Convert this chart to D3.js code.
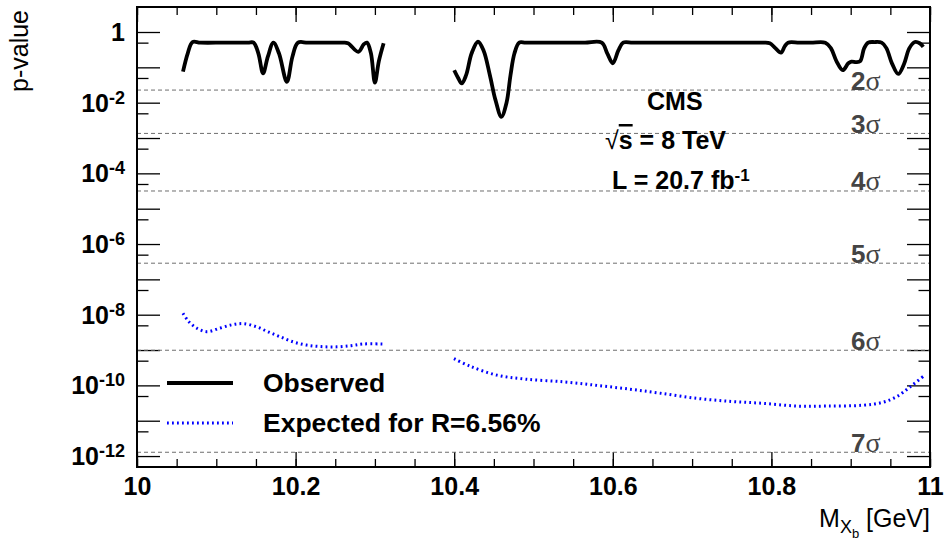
<!DOCTYPE html>
<html>
<head>
<meta charset="utf-8">
<script src="https://cdn.jsdelivr.net/npm/d3@7"></script>
<style>
  body { margin: 0; background: #fff; }
  text { font-family: "Liberation Sans", Arial, sans-serif; }
</style>
</head>
<body>
<div id="chart"></div>
<script>
// observed local p-value, two mass windows
const obsMassA = [10.058, 10.064, 10.070, 10.080, 10.110, 10.140, 10.147, 10.153, 10.159, 10.165, 10.172, 10.179, 10.189, 10.196, 10.203, 10.215, 10.235, 10.260, 10.266, 10.279, 10.286, 10.290, 10.295, 10.300, 10.305, 10.311];
const obsPA    = [0.076, 0.25, 0.52, 0.5, 0.5, 0.5, 0.5, 0.25, 0.068, 0.2, 0.5, 0.25, 0.039, 0.2, 0.5, 0.5, 0.5, 0.5, 0.48, 0.275, 0.45, 0.5, 0.25, 0.037, 0.15, 0.48];
const obsMassB = [10.400, 10.405, 10.4095, 10.415, 10.422, 10.430, 10.437, 10.445, 10.452, 10.4595, 10.466, 10.471, 10.476, 10.482, 10.490, 10.515, 10.540, 10.565, 10.586, 10.593, 10.600, 10.607, 10.613, 10.625, 10.650, 10.680, 10.710, 10.740, 10.765, 10.790, 10.798, 10.805, 10.812, 10.817, 10.821, 10.835, 10.850, 10.868, 10.875, 10.882, 10.890, 10.897, 10.901, 10.907, 10.912, 10.917, 10.922, 10.930, 10.939, 10.945, 10.952, 10.960, 10.967, 10.974, 10.981, 10.987, 10.9915];
const obsPB    = [0.083, 0.05, 0.035, 0.06, 0.25, 0.53, 0.3, 0.06, 0.012, 0.004, 0.01, 0.06, 0.25, 0.5, 0.5, 0.5, 0.5, 0.5, 0.5, 0.25, 0.13, 0.3, 0.5, 0.5, 0.5, 0.5, 0.5, 0.5, 0.5, 0.5, 0.48, 0.35, 0.26, 0.4, 0.5, 0.5, 0.5, 0.5, 0.35, 0.15, 0.083, 0.13, 0.145, 0.14, 0.15, 0.35, 0.5, 0.52, 0.5, 0.35, 0.13, 0.065, 0.12, 0.35, 0.52, 0.48, 0.38];

// expected for R = 6.56%
const expMassA = [10.058, 10.065, 10.075, 10.088, 10.105, 10.120, 10.134, 10.150, 10.165, 10.180, 10.197, 10.214, 10.232, 10.252, 10.270, 10.285, 10.311];
const expPA    = [1.1e-8, 6.5e-9, 4.2e-9, 3.3e-9, 4.2e-9, 5.2e-9, 5.6e-9, 4.6e-9, 3.3e-9, 2.4e-9, 1.7e-9, 1.38e-9, 1.25e-9, 1.23e-9, 1.33e-9, 1.48e-9, 1.48e-9];
const expMassB = [10.3997, 10.420, 10.4536, 10.490, 10.5376, 10.580, 10.6217, 10.660, 10.7057, 10.750, 10.7898, 10.832, 10.870, 10.916, 10.940, 10.958, 10.975, 10.9915];
const expPB    = [5.7e-10, 3.5e-10, 1.95e-10, 1.5e-10, 1.26e-10, 1.0e-10, 7.8e-11, 6.0e-11, 4.3e-11, 3.5e-11, 3.1e-11, 2.6e-11, 2.6e-11, 2.75e-11, 3.3e-11, 4.8e-11, 9.1e-11, 1.8e-10];

// significance reference lines (one-sided)
const sigmaLabels = ["2", "3", "4", "5", "6", "7"];
const sigmaP = [2.275e-2, 1.35e-3, 3.167e-5, 2.867e-7, 9.866e-10, 1.28e-12];

const xTickValues = [10, 10.2, 10.4, 10.6, 10.8, 11];
const xTickLabels = ["10", "10.2", "10.4", "10.6", "10.8", "11"];
const yLabelExp = [0, -2, -4, -6, -8, -10, -12];

const legendLabels = ["Observed", "Expected for R=6.56%"];

const width = 945, height = 542;
const margin = {left: 137, right: 15, top: 7, bottom: 75};
const plotW = width - margin.left - margin.right,
    plotH = height - margin.top - margin.bottom;

const svg = d3.select("#chart")
    .append("svg")
    .attr("width", width)
    .attr("height", height);

const g = svg.append("g")
    .attr("transform", "translate(" + margin.left + "," + margin.top + ")");

const x = d3.scaleLinear().domain([10, 11]).range([0, plotW]);
const y = d3.scaleLog().domain([4.9e-13, 5.1]).range([plotH, 0]);

// ticks
const xMinor = d3.range(0, 21).map(i => 10 + i * 0.05);
const yMajor = d3.range(-12, 1).map(e => Math.pow(10, e));
const yMinor = d3.range(-12, 1).map(e => 5 * Math.pow(10, e - 1));

function styleAxis(sel) {
    sel.select(".domain").remove();
    sel.selectAll(".tick line").attr("stroke", "#000").attr("stroke-width", 1.3);
}

g.append("g").attr("transform", "translate(0," + plotH + ")")
    .call(d3.axisBottom(x).tickValues(xMinor).tickSize(-8).tickFormat(""))
    .call(styleAxis);
g.append("g").attr("transform", "translate(0," + plotH + ")")
    .call(d3.axisBottom(x).tickValues(xTickValues).tickSize(-15).tickPadding(10)
        .tickFormat((d, i) => xTickLabels[i]))
    .call(styleAxis)
    .selectAll("text")
    .attr("fill", "#000")
    .style("font-size", "25px")
    .style("font-weight", "bold");
g.append("g")
    .call(d3.axisTop(x).tickValues(xMinor).tickSize(-8).tickFormat(""))
    .call(styleAxis);
g.append("g")
    .call(d3.axisTop(x).tickValues(xTickValues).tickSize(-15).tickFormat(""))
    .call(styleAxis);

g.append("g")
    .call(d3.axisLeft(y).tickValues(yMajor).tickSize(-23).tickFormat(""))
    .call(styleAxis);
g.append("g")
    .call(d3.axisLeft(y).tickValues(yMinor).tickSize(-11.5).tickFormat(""))
    .call(styleAxis);
g.append("g").attr("transform", "translate(" + plotW + ",0)")
    .call(d3.axisRight(y).tickValues(yMajor).tickSize(-23).tickFormat(""))
    .call(styleAxis);
g.append("g").attr("transform", "translate(" + plotW + ",0)")
    .call(d3.axisRight(y).tickValues(yMinor).tickSize(-11.5).tickFormat(""))
    .call(styleAxis);

// y labels 1, 10^-2 ...
const yLab = g.append("g").selectAll("text")
    .data(yLabelExp)
    .enter()
    .append("text")
    .attr("x", -12)
    .attr("y", d => y(Math.pow(10, d)))
    .attr("dy", "0.36em")
    .attr("text-anchor", "end")
    .style("font-size", "25px")
    .style("font-weight", "bold");
yLab.each(function (d) {
    const t = d3.select(this);
    if (d === 0) {
        t.text("1");
    } else {
        t.append("tspan").text("10");
        t.append("tspan").attr("dy", "-0.45em").style("font-size", "18px").text(String(d));
    }
});

// sigma lines
g.append("g").selectAll("line")
    .data(sigmaP)
    .enter()
    .append("line")
    .attr("x1", 0)
    .attr("x2", plotW)
    .attr("y1", d => y(d))
    .attr("y2", d => y(d))
    .attr("stroke", "#6e6e6e")
    .attr("stroke-width", 1)
    .attr("stroke-dasharray", "4,3");

const sig = g.append("g").selectAll("text")
    .data(sigmaP)
    .enter()
    .append("text")
    .attr("x", 714)
    .attr("y", d => y(d) - 0.5)
    .attr("fill", "#444")
    .style("font-size", "26px")
    .style("font-weight", "bold");
sig.append("tspan").text((d, i) => sigmaLabels[i]);
sig.append("tspan")
    .style("font-family", "'Liberation Serif', 'DejaVu Serif', serif")
    .style("font-weight", "normal")
    .style("font-size", "28px")
    .text("σ");

// curves
const line = d3.line()
    .x(d => x(d[0]))
    .y(d => y(d[1]))
    .curve(d3.curveCatmullRom.alpha(0.5));

const zip = (a, b) => a.map((v, i) => [v, b[i]]);

[zip(expMassA, expPA), zip(expMassB, expPB)].forEach(pts => {
    g.append("path")
        .attr("d", line(pts))
        .attr("fill", "none")
        .attr("stroke", "#0000ff")
        .attr("stroke-width", 3)
        .attr("stroke-dasharray", "1.8,3.2");
});

[zip(obsMassA, obsPA), zip(obsMassB, obsPB)].forEach(pts => {
    g.append("path")
        .attr("d", line(pts))
        .attr("fill", "none")
        .attr("stroke", "#000")
        .attr("stroke-width", 3.8)
        .attr("stroke-linejoin", "round");
});

// frame
g.append("rect")
    .attr("width", plotW)
    .attr("height", plotH)
    .attr("fill", "none")
    .attr("stroke", "#000")
    .attr("stroke-width", 2);

// legend
const legend = g.append("g").attr("transform", "translate(30,376)");
legend.append("line")
    .attr("x1", 0).attr("x2", 66).attr("y1", 0).attr("y2", 0)
    .attr("stroke", "#000").attr("stroke-width", 3.8);
legend.append("line")
    .attr("x1", 0).attr("x2", 66).attr("y1", 40).attr("y2", 40)
    .attr("stroke", "#0000ff").attr("stroke-width", 3)
    .attr("stroke-dasharray", "1.8,3.2");
legend.selectAll("text")
    .data(legendLabels)
    .enter()
    .append("text")
    .attr("x", 96)
    .attr("y", (d, i) => i * 40 + 9)
    .style("font-size", "26.5px")
    .style("font-weight", "bold")
    .text(d => d);

// CMS label
const info = g.append("g").style("font-size", "25px").style("font-weight", "bold");
info.append("text").attr("x", 510).attr("y", 103).text("CMS");
const rs = info.append("text").attr("x", 468).attr("y", 142);
rs.append("tspan").style("font-weight", "normal").text("√");
rs.append("tspan").style("text-decoration", "overline").text("s");
rs.append("tspan").text("  = 8 TeV");
const lum = info.append("text").attr("x", 475).attr("y", 182);
lum.append("tspan").text("L  = 20.7 fb");
lum.append("tspan").attr("dy", "-0.5em").style("font-size", "17px").text("-1");

// axis titles
const xt = svg.append("text")
    .attr("x", margin.left + plotW)
    .attr("y", 527)
    .attr("text-anchor", "end")
    .style("font-size", "25px");
xt.append("tspan").text("M");
xt.append("tspan").attr("dy", 6).style("font-size", "18px").text("X");
xt.append("tspan").attr("dy", 5).style("font-size", "13px").text("b");
xt.append("tspan").attr("dy", -11).text(" [GeV]");

svg.append("text")
    .attr("transform", "translate(28,10) rotate(-90)")
    .attr("text-anchor", "end")
    .style("font-size", "25px")
    .text("p-value");
</script>
</body>
</html>
